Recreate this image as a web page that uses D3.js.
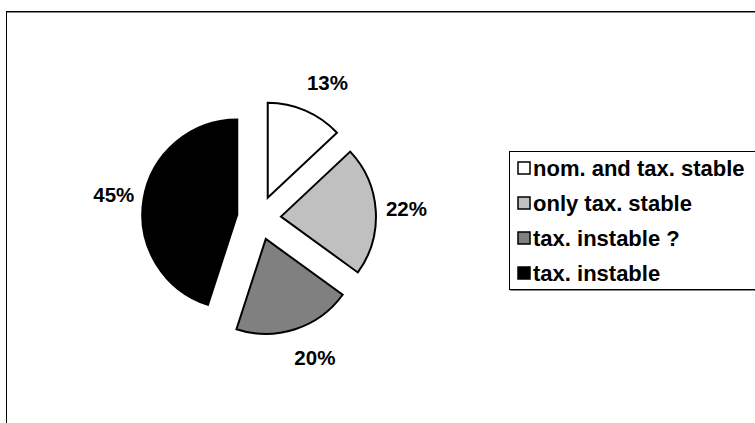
<!DOCTYPE html>
<html>
<head>
<meta charset="utf-8">
<script src="https://cdn.jsdelivr.net/npm/d3@7"></script>
<style>
  html, body { margin: 0; padding: 0; background: #fff; }
  svg { display: block; font-family: "Liberation Sans", Arial, sans-serif; }
</style>
</head>
<body>
<svg id="chart" width="755" height="423"></svg>
<script>
const categories = ["nom. and tax. stable", "only tax. stable", "tax. instable ?", "tax. instable"];
const values = [13, 22, 20, 45];
const labels = ["13%", "22%", "20%", "45%"];
const colors = ["#ffffff", "#c0c0c0", "#808080", "#000000"];

const svg = d3.select("#chart");
const W = 755, H = 423;

// outer frame (extends past right/bottom edge)
svg.append("rect").attr("x", 6.5).attr("y", 11.5).attr("width", 800).attr("height", 500)
  .attr("fill", "#fff").attr("stroke", "#000").attr("stroke-width", 1);
svg.append("line").attr("x1", 7).attr("x2", W).attr("y1", 12.5).attr("y2", 12.5)
  .attr("stroke", "#888").attr("stroke-width", 1);

const cx = 259, cy = 218, r = 95, explode = 22, labelR = 147;

const pie = d3.pie().sort(null).value(d => d)(values);
const arc = d3.arc().innerRadius(0).outerRadius(r);

const g = svg.append("g").attr("transform", `translate(${cx},${cy})`);

g.selectAll("path.slice").data(pie).join("path")
  .attr("class", "slice")
  .attr("d", arc)
  .attr("transform", d => {
    const a = (d.startAngle + d.endAngle) / 2;
    return `translate(${explode * Math.sin(a)},${-explode * Math.cos(a)})`;
  })
  .attr("fill", (d, i) => colors[i])
  .attr("stroke", "#000")
  .attr("stroke-width", 2)
  .attr("stroke-linejoin", "miter");

g.selectAll("text.lbl").data(pie).join("text")
  .attr("class", "lbl")
  .attr("x", d => {
    const a = (d.startAngle + d.endAngle) / 2;
    return labelR * Math.sin(a) + (Math.sin(a) > 0 ? 11 * Math.abs(Math.cos(a)) : 0);
  })
  .attr("y", d => {
    const a = (d.startAngle + d.endAngle) / 2;
    return -labelR * Math.cos(a);
  })
  .attr("dy", "0.36em")
  .attr("text-anchor", "middle")
  .attr("font-size", "20.5px")
  .attr("font-weight", "bold")
  .attr("fill", "#000")
  .text((d, i) => labels[i]);

// legend
const lg = svg.append("g");
lg.append("rect").attr("x", 509.5).attr("y", 151.5).attr("width", 300).attr("height", 138)
  .attr("fill", "#fff").attr("stroke", "#000").attr("stroke-width", 1);
lg.append("line").attr("x1", 510).attr("x2", W).attr("y1", 290.5).attr("y2", 290.5)
  .attr("stroke", "#888").attr("stroke-width", 1);

const rowY = d3.scalePoint().domain(categories).range([168, 273]);
const rows = lg.selectAll("g.row").data(categories).join("g").attr("class", "row")
  .attr("transform", d => `translate(0,${rowY(d)})`);
rows.append("rect").attr("x", 518).attr("y", -6).attr("width", 12).attr("height", 12)
  .attr("fill", (d, i) => colors[i]).attr("stroke", "#000").attr("stroke-width", 1.5);
rows.append("text").attr("x", 533).attr("y", 0).attr("dy", "0.36em")
  .attr("font-size", "22px").attr("font-weight", "bold").attr("fill", "#000")
  .text(d => d);
</script>
</body>
</html>
